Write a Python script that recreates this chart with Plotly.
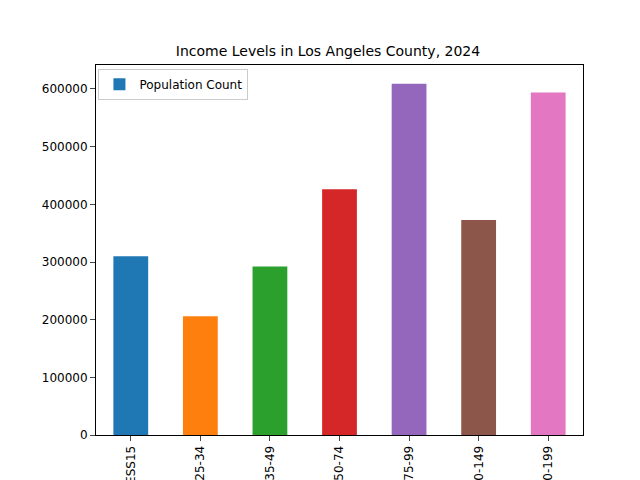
import plotly.graph_objects as go

categories = ["LESS15", "25-34", "35-49", "50-74", "75-99", "100-149", "150-199"]
population = [310000, 206000, 292000, 426000, 609000, 373000, 594000]
colors = ["#1f77b4", "#ff7f0e", "#2ca02c", "#d62728", "#9467bd", "#8c564b", "#e377c2"]

fig = go.Figure()
fig.add_trace(go.Bar(x=categories, y=population, marker_color=colors, width=0.5,
                     marker_line_width=0, name="Population Count", showlegend=False))
# legend swatch in the first colour, as matplotlib draws it
fig.add_trace(go.Bar(x=[None], y=[None], marker_color="#1f77b4", marker_line_width=0,
                     name="Population Count", showlegend=True))

fig.update_layout(
    width=640, height=480,
    margin=dict(l=88, r=65, t=57, b=53, autoexpand=False),
    paper_bgcolor="white", plot_bgcolor="white",
    font=dict(family="DejaVu Sans", size=12, color="black"),
    title=dict(text="Income Levels in Los Angeles County, 2024", x=0.5, xanchor="center",
               y=0.91, yanchor="middle", font=dict(size=14)),
    showlegend=True,
    legend=dict(x=0.005, y=0.99, xanchor="left", yanchor="top", bgcolor="white",
                bordercolor="#cccccc", borderwidth=1, font=dict(size=12)),
    barmode="overlay",
)
fig.update_xaxes(showline=True, linecolor="black", mirror=True, ticks="outside",
                 tickangle=-90, showgrid=False, range=[-0.5, 6.5], automargin=False)
fig.update_yaxes(showline=True, linecolor="black", mirror=True, ticks="outside",
                 showgrid=False, range=[0, 641600], tickformat="d", automargin=False,
                 tickvals=[0, 100000, 200000, 300000, 400000, 500000, 600000])
fig.write_html("out.html")
